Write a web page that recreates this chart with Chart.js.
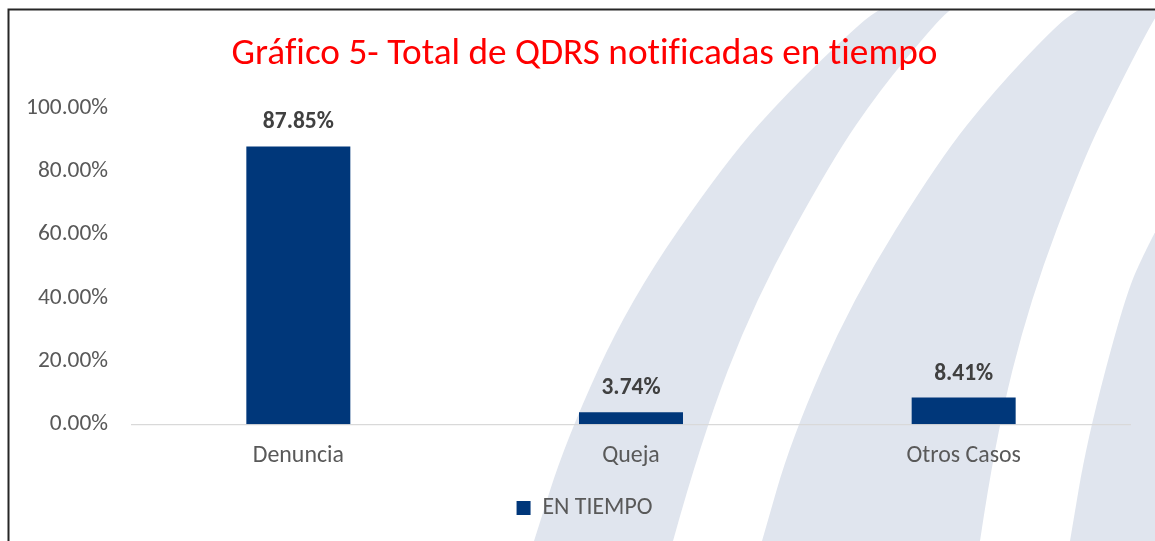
<!DOCTYPE html>
<html>
<head>
<meta charset="utf-8">
<script src="https://cdn.jsdelivr.net/npm/chart.js@4.4.1/dist/chart.umd.min.js"></script>
<style>
  html, body { margin: 0; padding: 0; background: #ffffff; }
  #wrap { position: relative; width: 1155px; height: 541px; }
  canvas { display: block; }
</style>
</head>
<body>
<div id="wrap"><canvas id="c" width="1155" height="541"></canvas></div>
<script>
// ---- data ----
const categories = ["Denuncia", "Queja", "Otros Casos"];
const seriesName = "EN TIEMPO";
const enTiempo = [87.85, 3.74, 8.41];
const yTicks = [0, 20, 40, 60, 80, 100];
const titleText = "Gráfico 5- Total de QDRS notificadas en tiempo";

// ---- styling helpers ----
const FAM = "Calibri, Carlito, Lato, 'Noto Sans', sans-serif";
const mctx = document.createElement('canvas').getContext('2d');
function fitSize(text, weight, target) {
  mctx.font = weight + " 100px " + FAM;
  return 100 * target / mctx.measureText(text).width;
}
const titleSize = fitSize(titleText, "normal", 705);
const yTickSize = fitSize("100.00%", "normal", 82);
const xTickSize = (fitSize("Denuncia", "normal", 90) + fitSize("Otros Casos", "normal", 116)) / 2;
const legendSize = fitSize(seriesName, "normal", 110);
const labelSize = fitSize("87.85%", "bold", 71);

const fmtPct = v => Number(v).toFixed(2) + "%";

// decorative background bands (y, x pairs for left and right edges)
const bandA = {
  left:  [[0,898],[10,877],[30,853],[90,790],[160,727],[300,630],[440,566],[541,534]],
  right: [[0,966],[10,949],[30,930],[90,880],[160,832],[300,755],[440,701],[541,673]]
};
const bandB = {
  left:  [[0,1098],[10,1076],[30,1052],[90,995],[160,939],[300,852],[440,791],[541,762]],
  right: [[0,1175],[10,1160],[30,1148],[90,1117],[160,1083],[300,1030],[440,995],[541,980]]
};
const bandC = {
  left:  [[200,1172],[250,1145],[300,1124],[440,1087],[541,1070]],
  right: [[200,1220],[541,1220]]
};

function smoothEdge(ctx, pts, first) {
  // quadratic smoothing through midpoints; pts are [y, x]
  if (first) ctx.moveTo(pts[0][1], pts[0][0]); else ctx.lineTo(pts[0][1], pts[0][0]);
  for (let i = 1; i < pts.length - 1; i++) {
    const mx = (pts[i][1] + pts[i + 1][1]) / 2, my = (pts[i][0] + pts[i + 1][0]) / 2;
    ctx.quadraticCurveTo(pts[i][1], pts[i][0], mx, my);
  }
  const last = pts[pts.length - 1];
  ctx.lineTo(last[1], last[0]);
}

const bgPlugin = {
  id: 'bg',
  beforeDraw(chart) {
    const ctx = chart.ctx;
    try { ctx.textRendering = 'optimizeSpeed'; } catch (e) {}
    ctx.save();
    ctx.fillStyle = '#ffffff';
    ctx.fillRect(0, 0, chart.width, chart.height);
    ctx.beginPath();
    ctx.rect(9, 10, chart.width, chart.height);
    ctx.clip();
    ctx.fillStyle = '#E0E5EE';
    [bandA, bandB, bandC].forEach(b => {
      ctx.beginPath();
      smoothEdge(ctx, b.left, true);
      smoothEdge(ctx, b.right.slice().reverse(), false);
      ctx.closePath();
      ctx.fill();
    });
    ctx.restore();
  },
  afterDraw(chart) {
    const ctx = chart.ctx;
    ctx.save();
    ctx.strokeStyle = '#262626';
    ctx.lineWidth = 2;
    ctx.beginPath();
    ctx.moveTo(8.5, chart.height);
    ctx.lineTo(8.5, 9.5);
    ctx.lineTo(chart.width, 9.5);
    ctx.stroke();
    ctx.restore();
  }
};

const valueLabels = {
  id: 'valueLabels',
  afterDatasetsDraw(chart) {
    const ctx = chart.ctx;
    const meta = chart.getDatasetMeta(0);
    const data = chart.data.datasets[0].data;
    ctx.save();
    ctx.font = "bold " + labelSize + "px " + FAM;
    ctx.fillStyle = '#404040';
    ctx.textAlign = 'center';
    ctx.textBaseline = 'alphabetic';
    meta.data.forEach((bar, i) => {
      ctx.fillText(fmtPct(data[i]), bar.x, bar.y - 18);
    });
    ctx.restore();
  }
};

const PAD_L = 14;
const RIGHT_W = 25;
const titlePadTop = 55 - 0.6 * titleSize;
const titlePadBottom = 108 - titlePadTop - 1.2 * titleSize;

new Chart(document.getElementById('c'), {
  type: 'bar',
  data: {
    labels: categories,
    datasets: [{
      label: seriesName,
      data: enTiempo,
      backgroundColor: '#00377A',
      borderWidth: 0,
      categoryPercentage: 1.0,
      barPercentage: 0.3126
    }]
  },
  options: {
    responsive: false,
    animation: false,
    devicePixelRatio: 1,
    layout: { padding: { top: 0, left: PAD_L, right: 0, bottom: 11 } },
    plugins: {
      title: {
        display: true,
        text: titleText,
        color: '#FF0000',
        font: { family: FAM, size: titleSize, weight: 'normal', lineHeight: 1.2 },
        padding: { top: titlePadTop, bottom: titlePadBottom }
      },
      legend: {
        display: true,
        position: 'bottom',
        labels: {
          boxWidth: 14,
          boxHeight: 14,
          padding: 10,
          color: '#595959',
          font: { family: FAM, size: legendSize }
        }
      },
      tooltip: { enabled: false }
    },
    scales: {
      x: {
        grid: { display: false, drawTicks: false },
        border: { display: true, color: '#D9D9D9', width: 1.3 },
        ticks: {
          color: '#595959',
          padding: 18,
          font: { family: FAM, size: xTickSize }
        },
        afterFit(scale) { scale.height = 62; }
      },
      y: {
        min: yTicks[0],
        max: yTicks[yTicks.length - 1],
        grid: { display: false, drawTicks: false },
        border: { display: false },
        afterBuildTicks(scale) { scale.ticks = yTicks.map(v => ({ value: v })); },
        ticks: {
          color: '#595959',
          padding: 24,
          font: { family: FAM, size: yTickSize },
          callback: v => fmtPct(v)
        },
        afterFit(scale) { scale.width = 132 - PAD_L; }
      },
      yRightSpace: {
        type: 'linear',
        position: 'right',
        display: true,
        grid: { display: false, drawTicks: false },
        border: { display: false },
        ticks: { display: false },
        afterFit(scale) { scale.width = RIGHT_W; }
      }
    }
  },
  plugins: [bgPlugin, valueLabels]
});
</script>
</body>
</html>
